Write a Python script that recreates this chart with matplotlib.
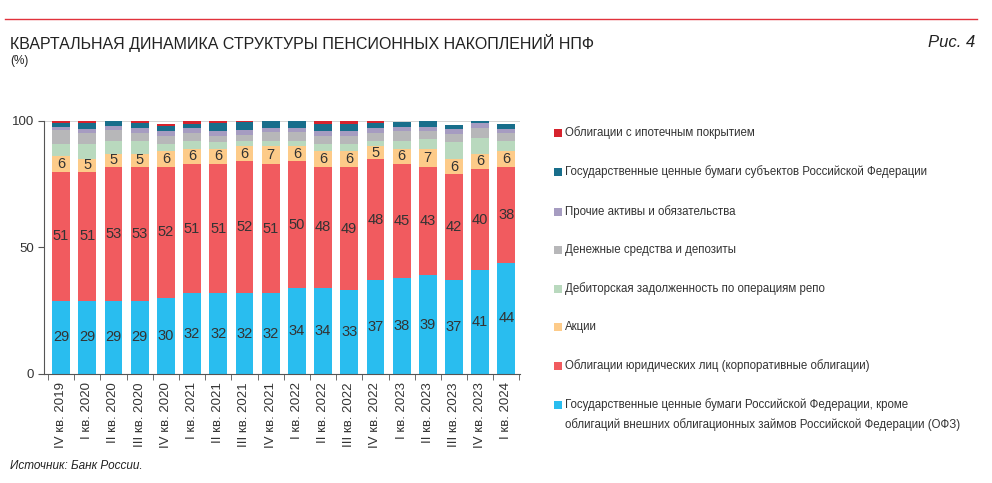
import numpy as np
import matplotlib.pyplot as plt
from matplotlib.patches import Rectangle

plt.rcParams['font.family'] = ['Liberation Sans', 'DejaVu Sans']

quarters = ['IV кв. 2019', 'I кв. 2020', 'II кв. 2020', 'III кв. 2020', 'IV кв. 2020',
            'I кв. 2021', 'II кв. 2021', 'III кв. 2021', 'IV кв. 2021', 'I кв. 2022',
            'II кв. 2022', 'III кв. 2022', 'IV кв. 2022', 'I кв. 2023', 'II кв. 2023',
            'III кв. 2023', 'IV кв. 2023', 'I кв. 2024']

ofz = [29, 29, 29, 29, 30, 32, 32, 32, 32, 34, 34, 33, 37, 38, 39, 37, 41, 44]
corp = [51, 51, 53, 53, 52, 51, 51, 52, 51, 50, 48, 49, 48, 45, 43, 42, 40, 38]
stocks = [6, 5, 5, 5, 6, 6, 6, 6, 7, 6, 6, 6, 5, 6, 7, 6, 6, 6]
repo = [5.0, 6.0, 4.9, 4.9, 2.9, 2.9, 2.6, 2.2, 2.0, 2.2, 2.9, 2.9, 2.2, 2.9, 4.0, 6.8, 6.2, 4.0]
cash = [5.3, 4.2, 4.5, 3.5, 3.2, 3.3, 2.4, 2.1, 3.5, 3.3, 3.0, 3.0, 3.2, 4.0, 3.0, 3.2, 4.0, 3.2]
other = [1.2, 1.8, 1.7, 1.7, 2.0, 2.0, 2.0, 2.0, 1.7, 1.7, 2.1, 2.1, 1.8, 1.8, 1.8, 1.8, 2.1, 1.8]
regional = [1.8, 2.1, 2.0, 2.1, 1.8, 1.8, 3.3, 3.3, 2.9, 2.9, 3.0, 3.0, 2.1, 2.0, 2.0, 1.7, 0.8, 2.0]
mortgage = [0.8, 0.8, 0.0, 0.8, 0.8, 0.8, 0.5, 0.5, 0.0, 0.0, 0.8, 0.8, 0.8, 0.0, 0.0, 0.0, 0.0, 0.0]

names = ['Государственные ценные бумаги Российской Федерации, кроме\n'
         'облигаций внешних облигационных займов Российской Федерации (ОФЗ)',
         'Облигации юридических лиц (корпоративные облигации)',
         'Акции',
         'Дебиторская задолженность по операциям репо',
         'Денежные средства и депозиты',
         'Прочие активы и обязательства',
         'Государственные ценные бумаги субъектов Российской Федерации',
         'Облигации с ипотечным покрытием']
colors = ['#29BDEF', '#F15B5F', '#FDCB89', '#B9D9BE', '#B7B7B9', '#A69CC1', '#186E8B', '#D6232D']
series = [ofz, corp, stocks, repo, cash, other, regional, mortgage]

fig = plt.figure(figsize=(9.92, 4.83), dpi=100)
ax = fig.add_axes([0.0444, 0.2257, 0.4798, 0.5238])

x = np.arange(len(quarters))
bottom = np.zeros(len(quarters))
for i, (vals, c) in enumerate(zip(series, colors)):
    vals = np.array(vals, dtype=float)
    ax.bar(x, vals, width=0.68, bottom=bottom, color=c, linewidth=0)
    if i < 3:
        for xi, b, v in zip(x, bottom, vals):
            ax.text(xi, b + v / 2, f'{v:.0f}', ha='center', va='center',
                    fontsize=10.5, color='#333333')
    bottom += vals

ax.axhline(100, color='#cccccc', linewidth=1.2, zorder=0)
ax.set_xlim(-0.65, 17.52)
ax.set_ylim(0, 100)
ax.set_yticks([0, 50, 100])
ax.set_yticklabels(['0', '50', '100'], fontsize=9.5, color='#333333')
ax.set_xticks(x)
ax.set_xticklabels(quarters, rotation=90, fontsize=9.5, color='#333333')
ax.tick_params(axis='x', length=0, pad=6)
ax.set_xticks(np.arange(-0.5, 17.6, 1), minor=True)
ax.tick_params(axis='x', which='minor', length=4, color='#555555')
ax.tick_params(axis='y', length=4, color='#555555', pad=3)
for s in ['top', 'right']:
    ax.spines[s].set_visible(False)
ax.spines['left'].set_color('#555555')
ax.spines['bottom'].set_color('#555555')

# header
fig.add_artist(plt.Line2D([0.005, 0.985], [0.961, 0.961], color='#E1323C', linewidth=1))
fig.text(0.010, 0.912, 'КВАРТАЛЬНАЯ ДИНАМИКА СТРУКТУРЫ ПЕНСИОННЫХ НАКОПЛЕНИЙ НПФ',
         fontsize=11.5, color='#222222', va='center')
fig.text(0.983, 0.912, 'Рис. 4', fontsize=12, style='italic', color='#222222',
         ha='right', va='center')
fig.text(0.010, 0.873, '(%)', fontsize=8.5, color='#222222', va='center')
fig.text(0.010, 0.035, 'Источник: Банк России.', fontsize=8.5, style='italic',
         color='#222222', va='center')

# legend
leg_y = [405, 366, 327, 289, 250, 212, 172, 133]
for name, c, yy in zip(names, colors, leg_y):
    fy = 1 - yy / 483
    fig.add_artist(Rectangle((554 / 992, fy - 4 / 483), 8 / 992, 8 / 483,
                             transform=fig.transFigure, color=c, linewidth=0))
    fig.text(565 / 992, fy, name, fontsize=8.3, color='#333333',
             va='top' if '\n' in name else 'center', linespacing=1.7)
# shift multi-line label to align first line
fig.texts[-8].set_y(1 - (405 - 7) / 483)

fig.savefig('out.png', dpi=100)
